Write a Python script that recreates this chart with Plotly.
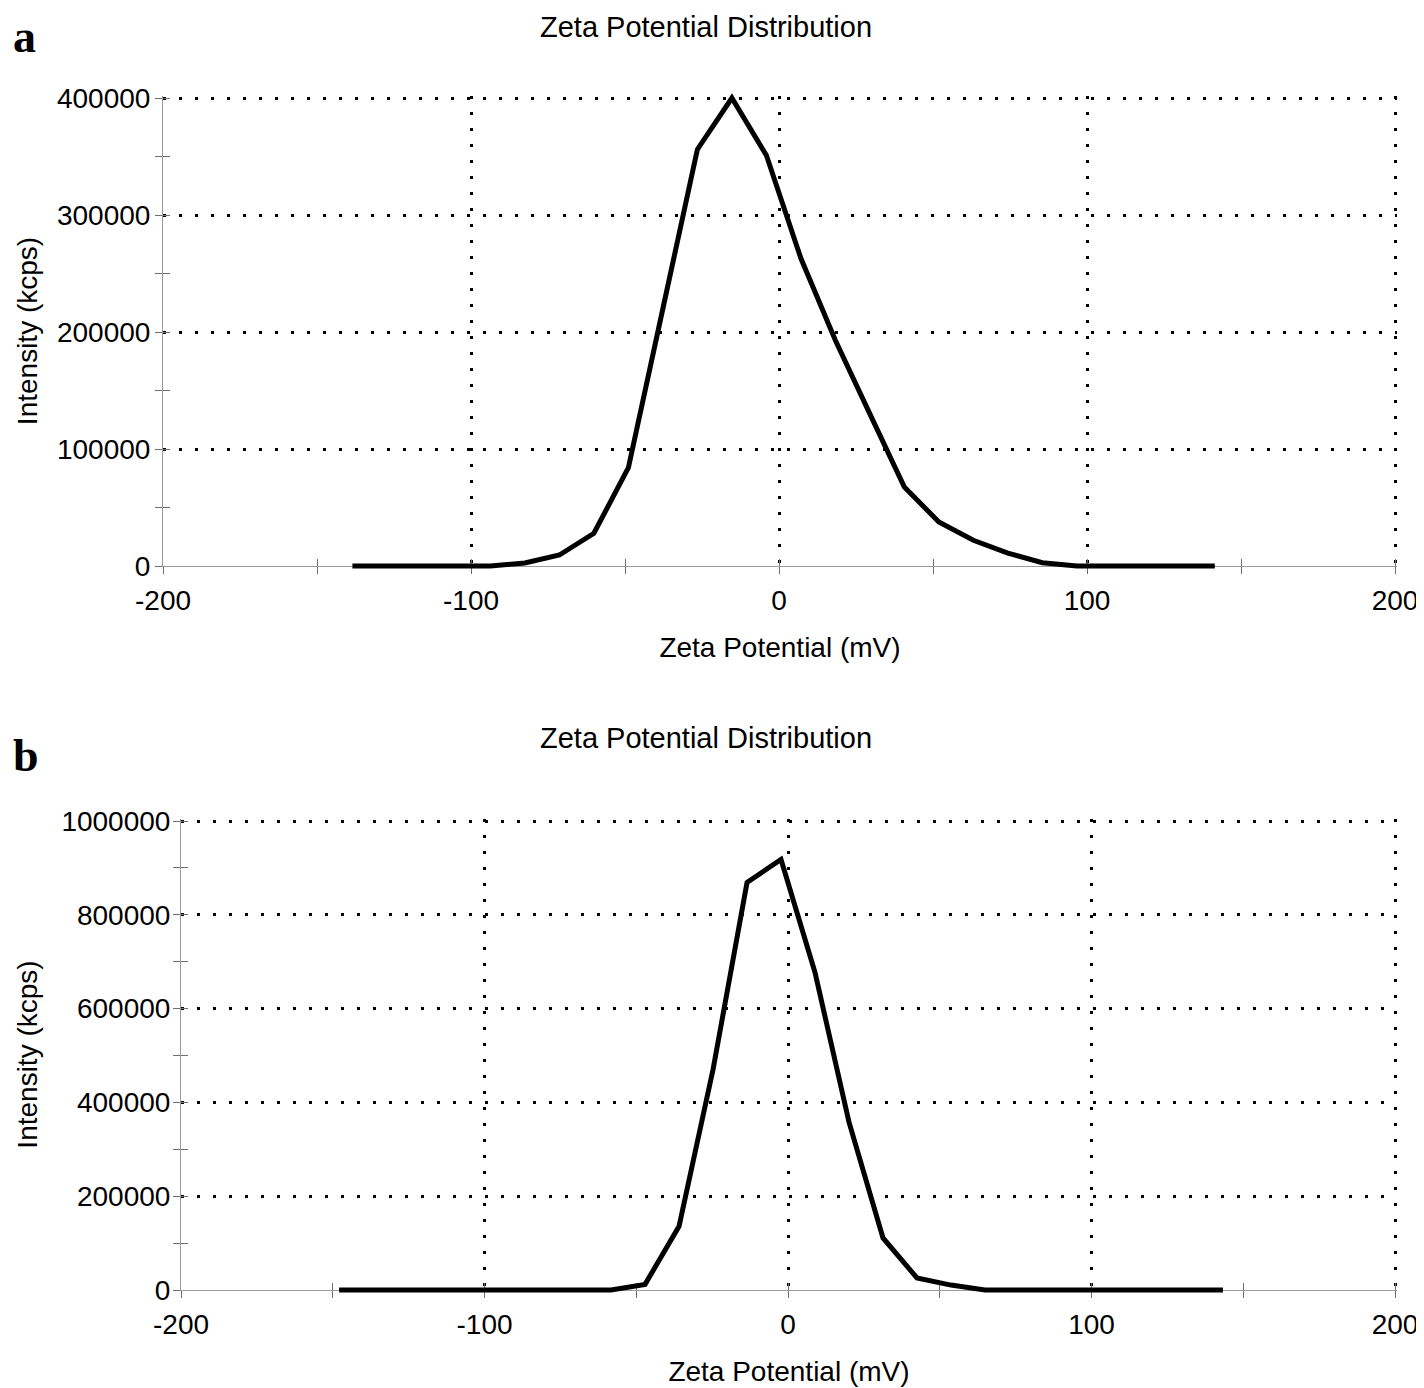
import plotly.graph_objects as go

# ---------------- data ----------------
zeta_a = [-138.5, -127.3, -116.1, -104.9, -93.7, -82.5, -71.3, -60.1, -48.9, -37.7,
          -26.5, -15.3, -4.1, 7.1, 18.3, 29.5, 40.7, 51.9, 63.1, 74.3,
          85.5, 96.7, 107.9, 119.1, 130.3, 141.5]
intensity_a = [0, 0, 0, 0, 0, 2600, 9400, 28000, 84000, 220000,
               356000, 400000, 351000, 263000, 193000, 130000, 67500, 37600, 22000, 11000,
               2800, 0, 0, 0, 0, 0]

zeta_b = [-147.9, -136.7, -125.5, -114.3, -103.1, -91.9, -80.7, -69.5, -58.3, -47.1,
          -35.9, -24.7, -13.5, -2.3, 8.9, 20.1, 31.3, 42.5, 53.7, 64.9,
          76.1, 87.3, 98.5, 109.7, 120.9, 132.1, 143.3]
intensity_b = [0, 0, 0, 0, 0, 0, 0, 0, 0, 12000,
               136000, 470000, 869000, 918000, 677000, 358000, 111000, 25600, 10500, 0,
               0, 0, 0, 0, 0, 0, 0]

x_ticks = [-200, -100, 0, 100, 200]
x_tick_labels = ["-200", "-100", "0", "100", "200"]
ya_ticks = [0, 100000, 200000, 300000, 400000]
yb_ticks = [0, 200000, 400000, 600000, 800000, 1000000]

title_text = "Zeta Potential Distribution"
x_title = "Zeta Potential (mV)"
y_title = "Intensity (kcps)"

# ---------------- layout geometry ----------------
OFF = 8                      # page body margin of the html page
W, H = 1424 - OFF, 1388 - OFF
FONT = "Liberation Sans, Arial, sans-serif"
AX_COLOR = "#9a9a9a"
TICK_COLOR = "#6e6e6e"
GRID_DASH = "3px,13px"
EXT = 2                      # px extension so the edge grid lines are kept


def fx(px):
    return (px - OFF) / W


def fy(py):
    return 1 - (py - OFF) / H


panels = [
    dict(l=163, r=1395, t=98, b=566, xr=[-200, 200], yr=[0, 400000], yt=ya_ticks,
         ydt=100000, x=zeta_a, y=intensity_a, ylab_sh=-1, ytit_sh=11),
    dict(l=181, r=1395, t=821, b=1290, xr=[-200, 200], yr=[0, 1000000], yt=yb_ticks,
         ydt=200000, x=zeta_b, y=intensity_b, ylab_sh=-3, ytit_sh=15),
]

fig = go.Figure()
layout = {}
PAD = 12  # px extension for the (hidden) data axes so that thick lines are not clipped

for i, p in enumerate(panels):
    vx_id = "x" if i == 0 else "x2"
    vy_id = "y" if i == 0 else "y2"
    vx = "xaxis" + vx_id[1:]
    vy = "yaxis" + vy_id[1:]
    ix_id, iy_id = f"x{3 + 2 * i}", f"y{3 + 2 * i}"      # inside-tick overlay axes
    dx_id, dy_id = f"x{4 + 2 * i}", f"y{4 + 2 * i}"      # hidden data axes

    xu = (p["xr"][1] - p["xr"][0]) / (p["r"] - p["l"])
    yu = (p["yr"][1] - p["yr"][0]) / (p["b"] - p["t"])

    xdom = [fx(p["l"]), fx(p["r"] + EXT)]
    ydom = [fy(p["b"]), fy(p["t"] - EXT)]
    xrng = [p["xr"][0], p["xr"][1] + EXT * xu]
    yrng = [p["yr"][0], p["yr"][1] + EXT * yu]

    layout[vx] = dict(domain=xdom, anchor=vy_id, range=xrng, tickvals=x_ticks,
                      ticktext=x_tick_labels,
                      showline=True, linecolor=AX_COLOR, linewidth=1,
                      ticks="outside", ticklen=7, tickcolor=TICK_COLOR, tickwidth=1,
                      zeroline=False,
                      minor=dict(dtick=50, ticks="outside", ticklen=7, tickcolor=TICK_COLOR,
                                 showgrid=False),
                      showgrid=True, gridcolor="black", gridwidth=2.5, griddash=GRID_DASH,
                      tickfont=dict(family=FONT, size=28, color="black"),
                      title=dict(text=x_title, font=dict(family=FONT, size=28, color="black"),
                                 standoff=22),
                      automargin=False, ticklabelstandoff=2)
    layout[vy] = dict(domain=ydom, anchor=vx_id, range=yrng, tickvals=p["yt"],
                      tickformat="d", showline=True, linecolor=AX_COLOR, linewidth=1,
                      ticks="outside", ticklen=7, tickcolor=TICK_COLOR, tickwidth=1,
                      zeroline=False, showgrid=True, gridcolor="black", gridwidth=2.5,
                      griddash=GRID_DASH,
                      minor=dict(dtick=p["ydt"] / 2, ticks="outside", ticklen=7,
                                 tickcolor=TICK_COLOR, showgrid=False),
                      tickfont=dict(family=FONT, size=28, color="black"),
                      title=dict(text=y_title, font=dict(family=FONT, size=28, color="black"),
                                 standoff=p["ytit_sh"]),
                      automargin=False, ticklabelstandoff=p["ylab_sh"])
    # overlay axes carrying the inside half of the crossing ticks
    layout["xaxis" + ix_id[1:]] = dict(overlaying=vx_id, anchor=vy_id, range=xrng,
                                       tickvals=x_ticks, showticklabels=False, showgrid=False,
                                       zeroline=False, showline=False, ticks="inside",
                                       ticklen=7, tickcolor=TICK_COLOR, side="bottom",
                                       minor=dict(dtick=50, ticks="inside", ticklen=7,
                                                  tickcolor=TICK_COLOR, showgrid=False))
    layout["yaxis" + iy_id[1:]] = dict(overlaying=vy_id, anchor=vx_id, range=yrng,
                                       tickvals=p["yt"], showticklabels=False, showgrid=False,
                                       zeroline=False, showline=False, ticks="inside",
                                       ticklen=7, tickcolor=TICK_COLOR, side="left",
                                       minor=dict(dtick=p["ydt"] / 2, ticks="inside",
                                                  ticklen=7, tickcolor=TICK_COLOR,
                                                  showgrid=False))
    # hidden data axes with identical scale but slightly larger extent
    layout["xaxis" + dx_id[1:]] = dict(domain=[fx(p["l"] - PAD), fx(p["r"] + PAD)],
                                       range=[p["xr"][0] - PAD * xu, p["xr"][1] + PAD * xu],
                                       anchor=dy_id, visible=False)
    layout["yaxis" + dy_id[1:]] = dict(domain=[fy(p["b"] + PAD), fy(p["t"] - PAD)],
                                       range=[p["yr"][0] - PAD * yu, p["yr"][1] + PAD * yu],
                                       anchor=dx_id, visible=False)

    # empty traces so that the axis frames are created
    fig.add_trace(go.Scatter(x=[], y=[], xaxis=vx_id, yaxis=vy_id, showlegend=False,
                             hoverinfo="skip"))
    fig.add_trace(go.Scatter(x=[], y=[], xaxis=ix_id, yaxis=iy_id, showlegend=False,
                             hoverinfo="skip"))
    fig.add_trace(go.Scatter(x=p["x"], y=p["y"], mode="lines", xaxis=dx_id, yaxis=dy_id,
                             line=dict(color="black", width=5), showlegend=False,
                             hoverinfo="x+y"))

annotations = [
    dict(text=title_text, x=fx(706), y=fy(9), xref="paper", yref="paper",
         showarrow=False, xanchor="center", yanchor="top",
         font=dict(family=FONT, size=29, color="black")),
    dict(text=title_text, x=fx(706), y=fy(738), xref="paper", yref="paper",
         showarrow=False, xanchor="center", yanchor="middle",
         font=dict(family=FONT, size=29, color="black")),
    dict(text="<b>a</b>", x=fx(11), y=fy(9), xref="paper", yref="paper",
         showarrow=False, xanchor="left", yanchor="top",
         font=dict(family="Liberation Serif, Times New Roman, serif", size=46, color="black")),
    dict(text="<b>b</b>", x=fx(11), y=fy(755), xref="paper", yref="paper",
         showarrow=False, xanchor="left", yanchor="middle",
         font=dict(family="Liberation Serif, Times New Roman, serif", size=46, color="black")),
]

fig.update_layout(width=W, height=H, margin=dict(l=0, r=0, t=0, b=0),
                  paper_bgcolor="white", plot_bgcolor="rgba(0,0,0,0)",
                  showlegend=False, annotations=annotations, **layout)

fig.write_html("out.html")
